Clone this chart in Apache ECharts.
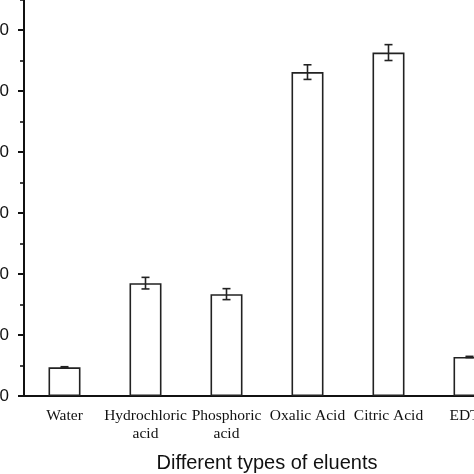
<!DOCTYPE html>
<html>
<head>
<meta charset="utf-8">
<script src="https://cdn.jsdelivr.net/npm/echarts@6/dist/echarts.min.js"></script>
<style>
  html, body { margin: 0; padding: 0; background: #fff; overflow: hidden; width: 474px; height: 474px; }
  #main { position: absolute; left: -40px; top: -40px; width: 560px; height: 560px; }
</style>
</head>
<body>
<div id="main"></div>
<script>
// categories and values (y labels cropped in the original)
const categories = ['Water', 'Hydrochloric\nacid', 'Phosphoric\nacid', 'Oxalic Acid', 'Citric Acid', 'EDTA'];
const values = [4.7, 18.5, 16.7, 53.1, 56.3, 6.4];
const errors = [0.1, 0.95, 0.9, 1.2, 1.3, 0.1];
const yTicks = [0, 10, 20, 30, 40, 50, 60, 70];

const chart = echarts.init(document.getElementById('main'));

const errData = values.map(function (v, i) {
    return [i, v - errors[i], v + errors[i]];
});

const option = {
    animation: false,
    backgroundColor: '#fff',
    grid: {
        left: 64,
        right: 10,
        top: 9,
        bottom: 124
    },
    xAxis: {
        type: 'category',
        data: categories,
        name: 'Different types of eluents',
        nameLocation: 'middle',
        nameGap: 57,
        nameTextStyle: {
            fontFamily: 'Liberation Sans',
            fontSize: 20,
            color: '#111'
        },
        axisLine: {lineStyle: {color: '#111', width: 2}},
        axisTick: {
            alignWithLabel: true,
            inside: false,
            length: 6,
            lineStyle: {color: '#111', width: 2}
        },
        axisLabel: {
            interval: 0,
            margin: 11,
            fontFamily: 'Liberation Serif',
            fontSize: 15.5,
            lineHeight: 18,
            color: '#111'
        },
        splitLine: {show: false}
    },
    yAxis: {
        type: 'value',
        min: yTicks[0],
        max: yTicks[yTicks.length - 1],
        interval: 10,
        axisLine: {show: true, lineStyle: {color: '#111', width: 2}},
        axisTick: {show: true, length: 6, lineStyle: {color: '#111', width: 2}},
        minorTick: {show: true, splitNumber: 2, length: 4, lineStyle: {color: '#111', width: 1.6}},
        axisLabel: {
            margin: 15,
            fontFamily: 'Liberation Sans',
            fontSize: 17,
            color: '#111'
        },
        splitLine: {show: false}
    },
    series: [{
        type: 'bar',
        data: values,
        barWidth: 32,
        itemStyle: {
            color: '#fff',
            borderColor: '#222',
            borderWidth: 1.6
        }
    }, {
        type: 'custom',
        data: errData,
        z: 5,
        renderItem: function (params, api) {
            const x = api.value(0);
            const lo = api.coord([x, api.value(1)]);
            const hi = api.coord([x, api.value(2)]);
            const half = 4;
            const style = {stroke: '#222', lineWidth: 1.6};
            return {
                type: 'group',
                children: [
                    {type: 'line', shape: {x1: lo[0], y1: lo[1], x2: hi[0], y2: hi[1]}, style: style},
                    {type: 'line', shape: {x1: lo[0] - half, y1: lo[1], x2: lo[0] + half, y2: lo[1]}, style: style},
                    {type: 'line', shape: {x1: hi[0] - half, y1: hi[1], x2: hi[0] + half, y2: hi[1]}, style: style}
                ]
            };
        }
    }]
};

chart.setOption(option);
</script>
</body>
</html>
